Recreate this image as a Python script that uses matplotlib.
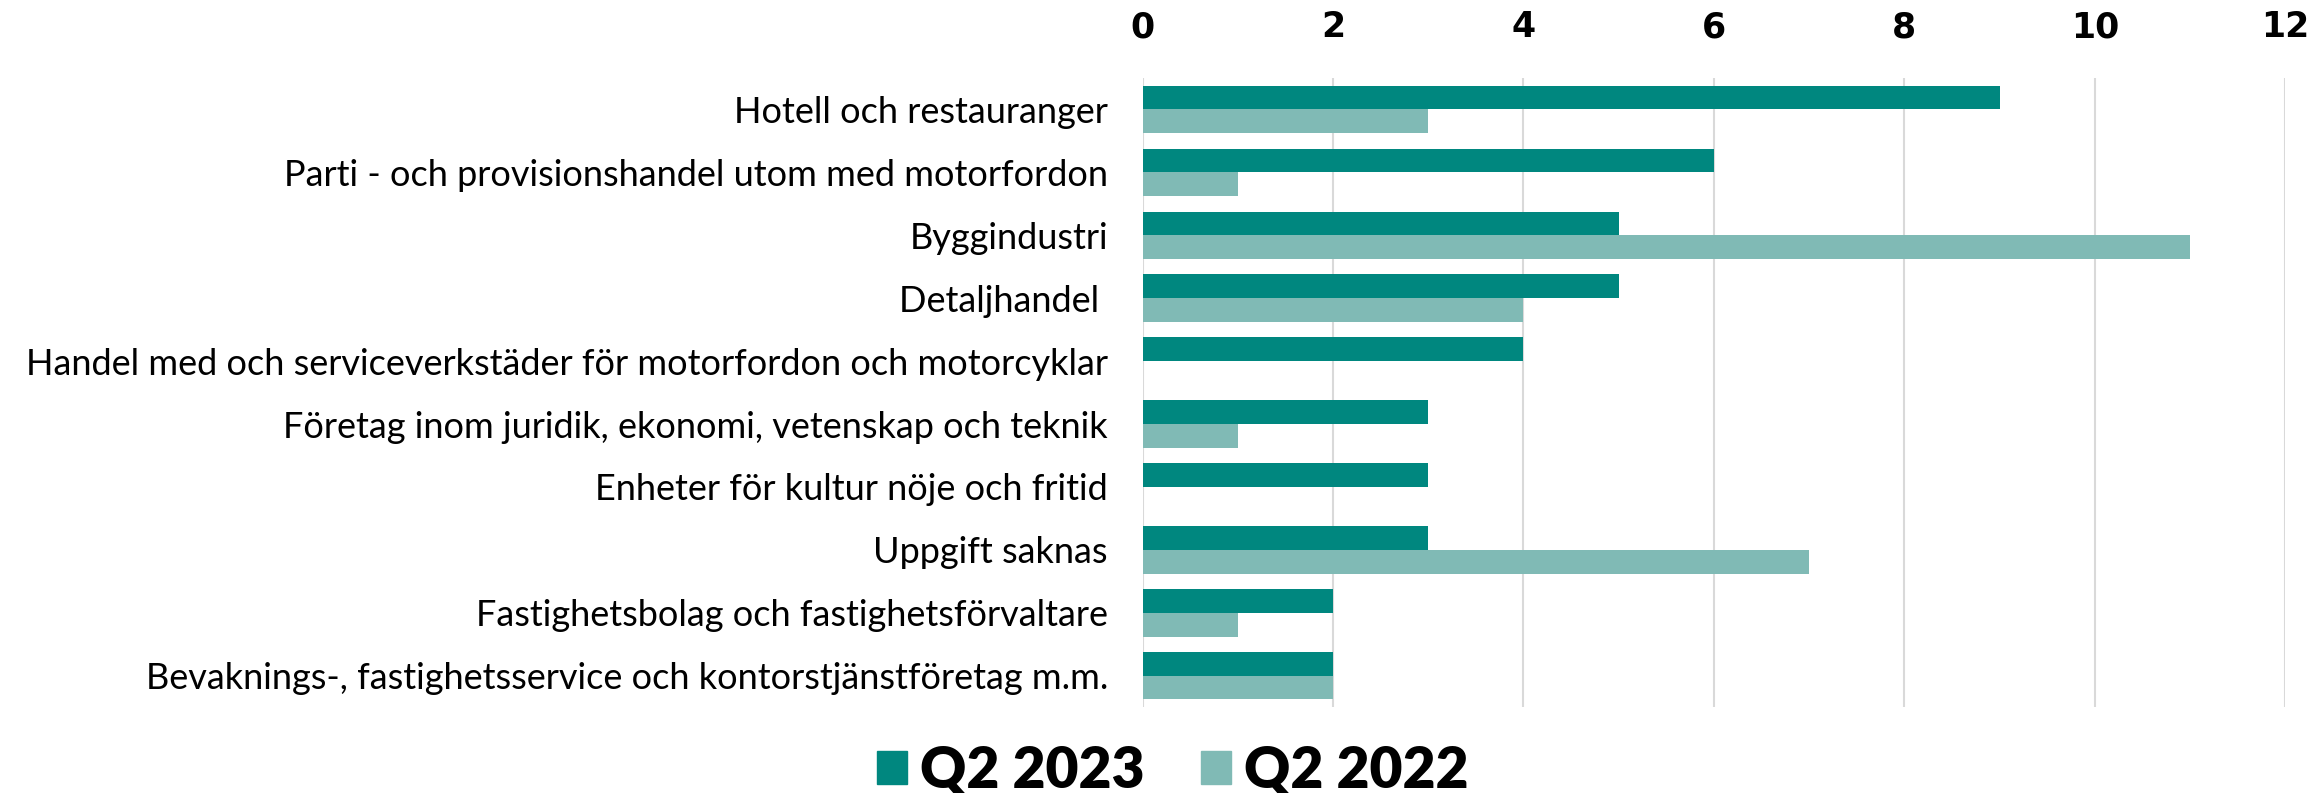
import matplotlib.pyplot as plt
import numpy as np
from matplotlib.patches import Patch

# branscher och antal
kategorier = [
    "Hotell och restauranger",
    "Parti - och provisionshandel utom med motorfordon",
    "Byggindustri",
    "Detaljhandel ",
    "Handel med och serviceverkstäder för motorfordon och motorcyklar",
    "Företag inom juridik, ekonomi, vetenskap och teknik",
    "Enheter för kultur nöje och fritid",
    "Uppgift saknas",
    "Fastighetsbolag och fastighetsförvaltare",
    "Bevaknings-, fastighetsservice och kontorstjänstföretag m.m.",
]
q2_2023 = [9, 6, 5, 5, 4, 3, 3, 3, 2, 2]
q2_2022 = [3, 1, 11, 4, 0, 1, 0, 7, 1, 2]
xticks = [0, 2, 4, 6, 8, 10, 12]

mork = "#00877f"
ljus = "#80bab5"

fig = plt.figure(figsize=(23.13, 7.93), dpi=100)
ax = fig.add_axes([0.494, 0.108, 0.494, 0.794])

y = np.arange(len(kategorier))
h = 0.375
ax.barh(y - h / 2, q2_2023, height=h, color=mork, zorder=3)
ax.barh(y + h / 2, q2_2022, height=h, color=ljus, zorder=3)

ax.set_ylim(len(kategorier) - 0.5, -0.5)
ax.set_xlim(0, 12)
ax.set_xticks(xticks)
ax.xaxis.tick_top()
ax.tick_params(axis="x", length=0, pad=24, labelsize=25)
for t in ax.get_xticklabels():
    t.set_fontweight("bold")
    t.set_fontfamily("DejaVu Sans Condensed")

ax.set_yticks(y)
ax.set_yticklabels(kategorier, fontsize=26, fontfamily="Lato")
ax.tick_params(axis="y", length=0, pad=25)

ax.grid(axis="x", color="#d9d9d9", linewidth=1.5, zorder=0)
for s in ax.spines.values():
    s.set_visible(False)

handles = [Patch(color=mork, label="Q2 2023"), Patch(color=ljus, label="Q2 2022")]
fig.legend(handles=handles, loc="center", bbox_to_anchor=(0.507, 0.028), ncol=2,
           frameon=False, prop={"weight": "heavy", "size": 41, "family": "Lato"},
           handlelength=0.52, handleheight=0.52, handletextpad=0.23, columnspacing=1.0,
           borderpad=0, borderaxespad=0)

fig.savefig("out.png", dpi=100)
